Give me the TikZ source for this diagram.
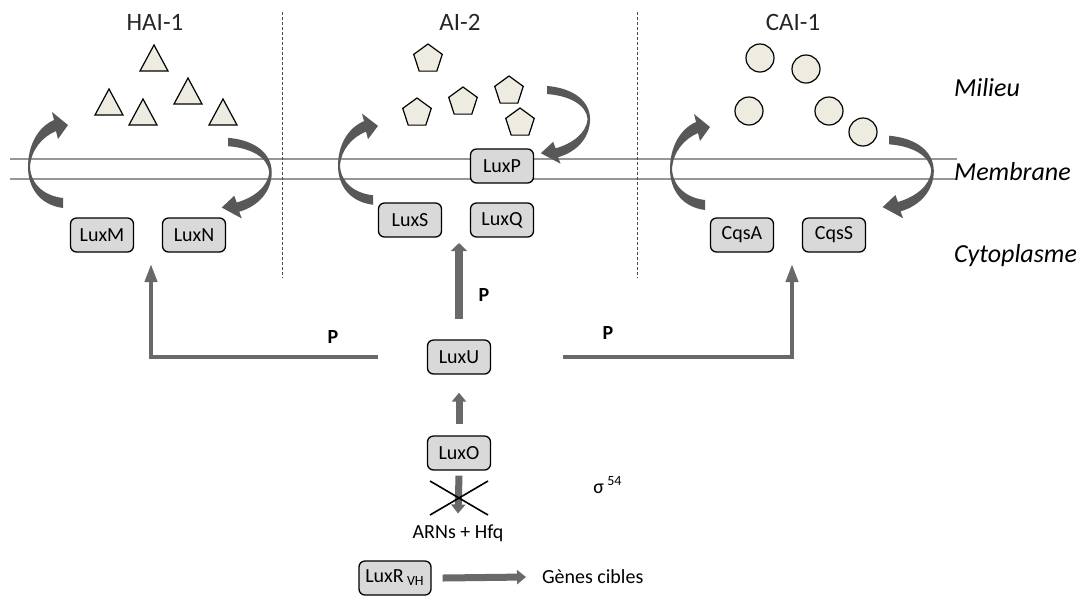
\documentclass[tikz,border=0pt]{standalone}
\usepackage{fontspec}
\setmainfont{Carlito}
\usepackage{tikz}
\usetikzlibrary{arrows.meta}
\usetikzlibrary{shapes.geometric}

\definecolor{boxgray}{RGB}{217,217,217}
\definecolor{molfill}{RGB}{238,236,224}
\definecolor{arrgray}{RGB}{88,88,88}
\definecolor{blkgray}{RGB}{105,105,105}
\definecolor{memgray}{RGB}{150,150,150}

\tikzset{
  prot/.style={draw, rounded corners=3pt, fill=boxgray, line width=0.65pt,
    minimum width=31.5pt, minimum height=17pt, inner sep=1pt,
    font=\fontsize{10}{12}\selectfont},
  mol/.style={draw, fill=molfill, line width=0.6pt},
  pent/.style={mol, regular polygon, regular polygon sides=5,
    minimum size=15pt, inner sep=0pt},
  title/.style={font=\fontsize{12.5}{15}\selectfont, text=black!85},
  region/.style={anchor=west, font=\itshape\fontsize{13}{15}\selectfont},
  plab/.style={font=\bfseries\fontsize{10}{12}\selectfont},
  memb/.style={memgray, line width=0.6pt},
  sep/.style={black!70, line width=0.5pt, dash pattern=on 1.5pt off 1pt},
  elbow/.style={blkgray, line width=2pt, -{Triangle[length=9pt,width=6pt]}},
  upblk/.style={blkgray, line width=4pt, -{Triangle[length=4pt,width=8pt]}},
  shortblk/.style={blkgray, line width=3.5pt, -{Triangle[length=4.5pt,width=7pt]}},
  cross/.style={black, line width=0.8pt}
}

% curved arrow, tail at the origin, head up
\newcommand{\bentarrow}{%
  \fill[arrgray] (0,5) .. controls (-23,2) and (-35,-15) .. (-35,-36)
    .. controls (-35,-58) and (-25,-76) .. (-9,-83) -- (-11,-91) -- (5,-78)
    -- (-5,-64) -- (-7,-72)
    .. controls (-21,-66) and (-32,-53) .. (-33,-36)
    .. controls (-32,-18) and (-18,-7) .. (0,-5) -- cycle;}

\begin{document}
\begin{tikzpicture}[x=0.5pt,y=-0.5pt]
  \useasboundingbox (0,0) rectangle (1080,596);

  % membrane and separations
  \draw[memb] (10,159) -- (957,159);
  \draw[memb] (10,179) -- (957,179);
  \foreach \x in {282,637}{
    \draw[sep] (\x,12) -- (\x,278);
  }

  % titles
  \node[title] at (155,22) {HAI-1};
  \node[title] at (460,22) {AI-2};
  \node[title] at (793,22) {CAI-1};

  % molecules
  \foreach \x/\y in {154/58,109/102,143/112,188/91,223/112}{
    \draw[mol] (\x-14,\y+13) -- (\x,\y-13) -- (\x+14,\y+13) -- cycle;
  }
  \foreach \x/\y in {428/59,417/113,463/102,509/91,520/123}{
    \node[pent] at (\x,\y) {};
  }
  \foreach \x/\y in {760/58,806/69,749/111,829/111,863/132}{
    \draw[mol] (\x,\y) circle[radius=7pt];
  }

  % curved arrows
  \begin{scope}[shift={(63,203)}]\bentarrow\end{scope}
  \begin{scope}[shift={(228,142)},rotate=180,xscale=1.25,yscale=0.84]\bentarrow\end{scope}
  \begin{scope}[shift={(373,200)},yscale=0.95]\bentarrow\end{scope}
  \begin{scope}[shift={(547,90)},rotate=180,xscale=1.23,yscale=0.81]\bentarrow\end{scope}
  \begin{scope}[shift={(705,205)}]\bentarrow\end{scope}
  \begin{scope}[shift={(889,140)},rotate=180,xscale=1.28,yscale=0.86]\bentarrow\end{scope}

  % proteins
  \node[prot] (luxm) at (102,235) {LuxM};
  \node[prot] (luxn) at (194,235) {LuxN};
  \node[prot] (luxp) at (502,166) {LuxP};
  \node[prot] (luxs) at (410,220) {LuxS};
  \node[prot] (luxq) at (502,220) {LuxQ};
  \node[prot] (cqsa) at (742,235) {CqsA};
  \node[prot] (cqss) at (834,235) {CqsS};
  \node[prot] (luxu) at (459,357) {LuxU};
  \node[prot] (luxo) at (459,453) {LuxO};
  \node[prot, minimum width=36pt] (luxr) at (395,578) {LuxR\,\textsubscript{VH}};

  \node[region] at (947,88) {Milieu};
  \node[region] at (947,172) {Membrane};
  \node[region] at (947,256) {Cytoplasme};

  \node[font=\fontsize{10}{12}\selectfont] (arns) at (458,533) {ARNs + Hfq};
  \node[font=\fontsize{10}{12}\selectfont, anchor=west] (genes) at (535,577) {Gènes cibles};
  \node[font=\fontsize{10}{12}\selectfont] (sigma) at (608,485) {σ\,\textsuperscript{54}};

  % phosphorelay
  \coordinate (haiin) at (151,264);
  \coordinate (ai2in) at (459,243);
  \coordinate (caiin) at (792,264);
  \draw[elbow] ([xshift=-24.5pt]luxu.west) -| (haiin);
  \draw[elbow] ([xshift=36pt]luxu.east) -| (caiin);
  \draw[upblk] ([yshift=10pt]luxu.north) -- (ai2in);
  \node[plab] at (333,337) {P};
  \node[plab] at (484,295) {P};
  \node[plab] at (608,333) {P};

  \draw[shortblk] ([yshift=5.5pt]luxo.north) -- ([yshift=-9pt]luxu.south);
  \draw[shortblk] ([yshift=-2.5pt]luxo.south) -- ([yshift=2pt]arns.north);
  \draw[cross] (430,481) -- (488,515);
  \draw[cross] (430,515) -- (488,481);

  \draw[shortblk] ([xshift=5.5pt]luxr.east) -- ([xshift=-4.5pt]genes.west);
\end{tikzpicture}
\end{document}
